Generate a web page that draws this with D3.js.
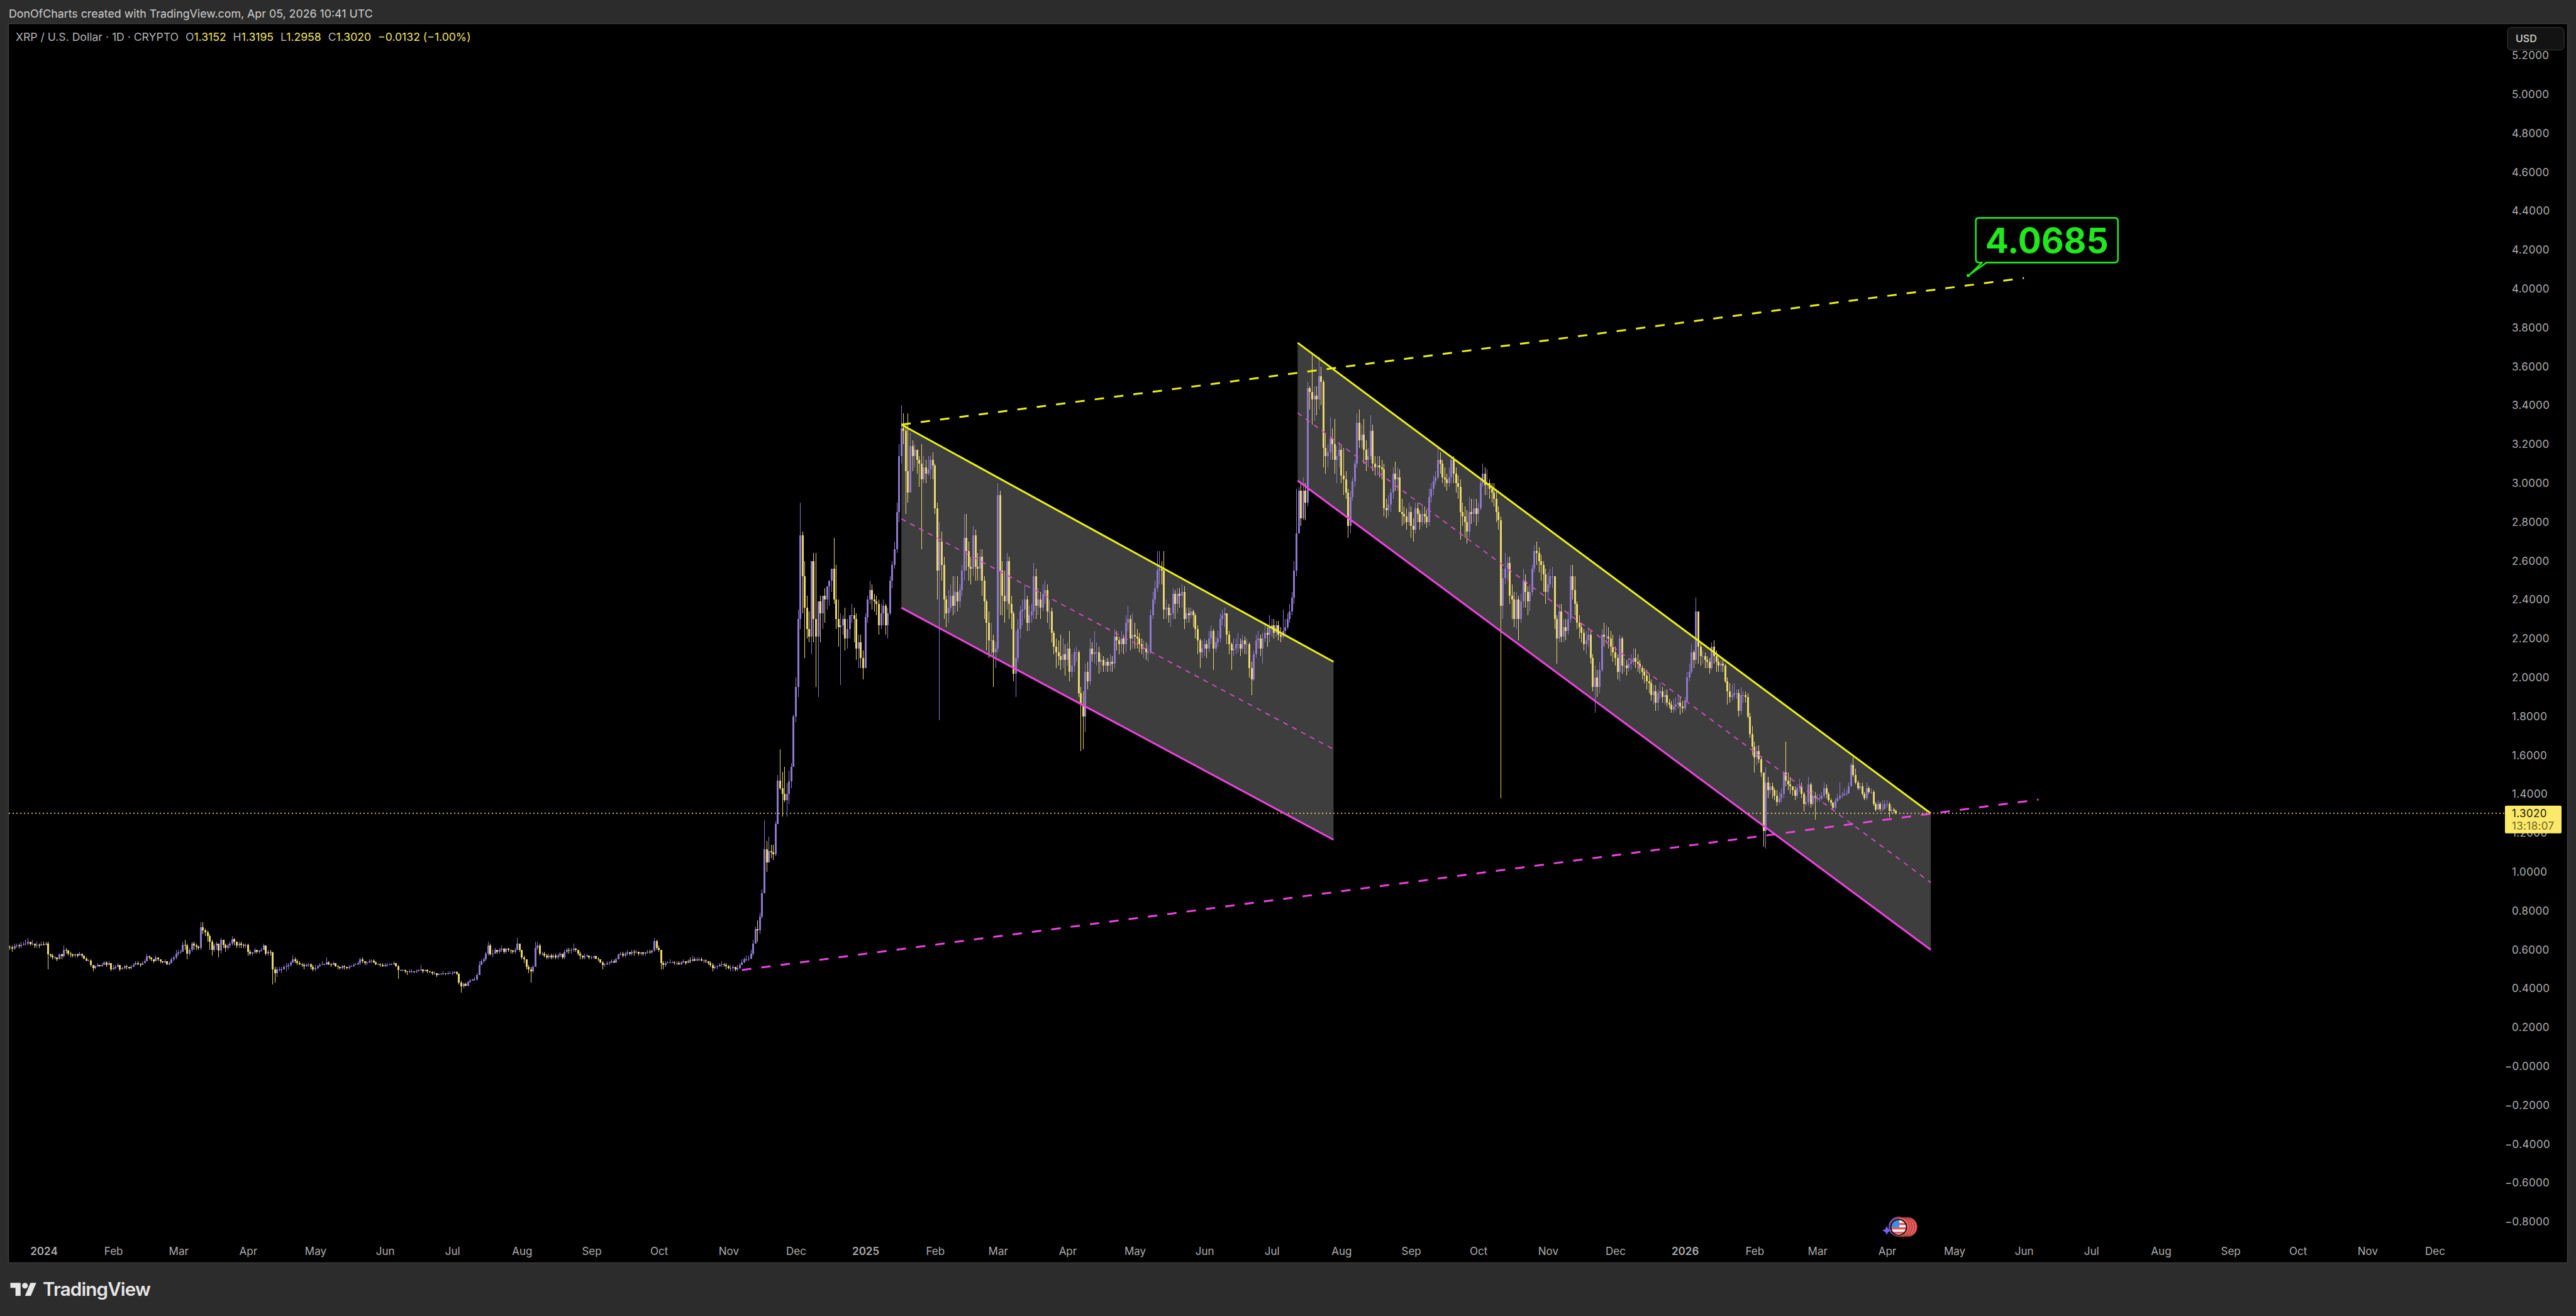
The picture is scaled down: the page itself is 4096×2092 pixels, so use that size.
<!DOCTYPE html>
<html><head><meta charset="utf-8">
<script src="https://cdn.jsdelivr.net/npm/d3@7"></script>
<style>html,body{margin:0;padding:0;background:#2b2b2b;overflow:hidden}svg{display:block}text{font-family:Inter,"Noto Sans",sans-serif}</style>
</head><body><svg id="c" width="4096" height="2092"></svg>
<script>
// ---- values ----
const monthStarts=["2023-12-16","2024-01-01","2024-02-01","2024-03-01","2024-04-01","2024-05-01","2024-06-01","2024-07-01","2024-08-01","2024-09-01","2024-10-01","2024-11-01","2024-12-01","2025-01-01","2025-02-01","2025-03-01","2025-04-01","2025-05-01","2025-06-01","2025-07-01","2025-08-01","2025-09-01","2025-10-01","2025-11-01","2025-12-01","2026-01-01","2026-02-01","2026-03-01","2026-04-01"];
const closes=[
[.615,.612,.605,.618,.622,.618,.625,.628,.632,.640,.628,.632,.620,.625,.622,.628],
[.625,.630,.575,.570,.560,.560,.550,.575,.565,.600,.595,.580,.575,.570,.575,.570,.580,.570,.555,.545,.545,.520,.505,.515,.520,.515,.520,.535,.520,.530,.500],
[.505,.510,.520,.500,.505,.515,.510,.505,.510,.520,.530,.525,.520,.530,.540,.565,.560,.550,.540,.560,.550,.540,.535,.540,.525,.530,.550,.560,.580],
[.585,.590,.625,.620,.580,.600,.630,.620,.615,.610,.715,.700,.690,.670,.640,.600,.620,.630,.595,.650,.625,.610,.620,.630,.655,.640,.620,.630,.625,.620,.625],
[.590,.580,.585,.600,.590,.595,.600,.620,.580,.590,.585,.500,.480,.500,.500,.500,.510,.515,.520,.535,.550,.540,.530,.525,.520,.515,.520,.525,.510,.500],
[.505,.515,.520,.525,.525,.535,.525,.520,.530,.515,.510,.505,.515,.510,.505,.510,.515,.520,.525,.530,.550,.540,.530,.535,.540,.545,.535,.525,.525,.520,.515],
[.520,.520,.525,.525,.530,.515,.495,.495,.495,.490,.485,.490,.490,.485,.490,.495,.500,.490,.495,.490,.485,.480,.480,.470,.475,.475,.480,.475,.480,.480],
[.480,.485,.475,.430,.410,.425,.415,.435,.440,.445,.445,.470,.520,.540,.550,.580,.620,.575,.580,.600,.590,.600,.605,.590,.605,.600,.595,.590,.600,.630,.600],
[.560,.550,.510,.500,.490,.510,.610,.620,.580,.580,.570,.560,.570,.560,.570,.560,.570,.580,.560,.590,.600,.595,.600,.605,.600,.580,.570,.560,.565,.570,.560],
[.560,.565,.555,.550,.535,.520,.525,.530,.535,.540,.535,.550,.575,.580,.570,.580,.585,.580,.590,.585,.590,.580,.585,.580,.585,.590,.585,.595,.645,.610],
[.600,.530,.520,.530,.535,.535,.535,.530,.530,.525,.535,.540,.530,.545,.540,.550,.545,.550,.550,.545,.545,.540,.530,.520,.505,.510,.515,.520,.525,.520,.515],
[.505,.505,.510,.500,.505,.520,.535,.550,.550,.555,.580,.630,.705,.700,.770,.890,1.116,1.05,1.107,1.10,1.09,1.245,1.47,1.43,1.40,1.37,1.40,1.466,1.54,1.80],
[1.95,2.30,2.73,2.52,2.36,2.25,2.21,2.60,2.30,2.21,2.39,2.33,2.42,2.40,2.47,2.50,2.56,2.40,2.30,2.26,2.27,2.30,2.20,2.25,2.32,2.32,2.30,2.15,2.18,2.10,2.05],
[2.31,2.40,2.45,2.40,2.39,2.38,2.27,2.33,2.37,2.27,2.33,2.50,2.58,2.66,2.85,3.14,3.28,3.27,3.06,2.95,3.19,3.14,3.17,3.12,3.10,3.02,3.08,3.05,3.07,3.12,3.09],
[2.87,2.55,2.70,2.58,2.40,2.33,2.36,2.42,2.37,2.44,2.39,2.45,2.55,2.72,2.65,2.57,2.56,2.73,2.57,2.56,2.62,2.50,2.39,2.28,2.19,2.19,2.13,2.15],
[2.94,2.55,2.42,2.39,2.60,2.38,2.33,2.02,2.10,2.25,2.34,2.35,2.40,2.28,2.32,2.34,2.52,2.37,2.40,2.36,2.43,2.45,2.34,2.34,2.23,2.16,2.13,2.11,2.09,2.12,2.09],
[2.15,2.03,2.06,2.13,2.13,1.92,1.86,1.80,2.03,1.98,2.15,2.12,2.13,2.13,2.08,2.09,2.06,2.08,2.06,2.08,2.07,2.21,2.19,2.17,2.20,2.17,2.28,2.30,2.20,2.22],
[2.21,2.20,2.17,2.15,2.15,2.13,2.13,2.32,2.40,2.46,2.55,2.56,2.55,2.35,2.36,2.32,2.33,2.43,2.38,2.43,2.42,2.44,2.30,2.33,2.32,2.34,2.32,2.25,2.19,2.13,2.15],
[2.17,2.15,2.20,2.24,2.15,2.18,2.20,2.30,2.32,2.33,2.22,2.17,2.14,2.15,2.17,2.17,2.15,2.19,2.17,2.17,2.05,1.99,2.12,2.19,2.20,2.15,2.20,2.23,2.22,2.26],
[2.27,2.23,2.27,2.22,2.21,2.24,2.26,2.30,2.34,2.41,2.55,2.74,2.96,2.82,2.96,2.90,3.49,3.47,3.43,3.45,3.43,3.55,3.52,3.18,3.14,3.16,3.23,3.20,3.12,3.14,3.17],
[3.04,3.02,2.95,2.78,2.93,3.01,3.10,3.31,3.22,3.25,3.17,3.12,3.14,3.27,3.10,3.08,3.09,3.08,3.07,2.87,2.86,2.89,2.95,3.05,3.02,3.03,2.85,2.84,2.83,2.80,2.85],
[2.78,2.76,2.87,2.84,2.80,2.84,2.83,2.80,2.93,2.97,3.01,3.03,3.12,3.10,3.03,3.02,3.00,3.03,3.12,3.05,3.00,2.98,2.85,2.83,2.80,2.75,2.85,2.84,2.87,2.84],
[2.87,3.00,3.05,2.99,3.00,2.97,2.95,2.92,2.85,2.81,2.37,2.51,2.56,2.59,2.42,2.40,2.30,2.40,2.30,2.39,2.50,2.44,2.39,2.44,2.56,2.65,2.64,2.60,2.58,2.53,2.44],
[2.48,2.52,2.52,2.30,2.20,2.34,2.21,2.26,2.24,2.30,2.52,2.45,2.38,2.28,2.26,2.23,2.17,2.19,2.22,2.10,1.95,2.00,1.95,2.04,2.22,2.21,2.21,2.20,2.16,2.13],
[2.10,2.03,2.20,2.06,2.06,2.05,2.07,2.08,2.10,2.08,2.07,2.05,2.03,2.01,1.98,1.97,1.91,1.93,1.87,1.92,1.93,1.90,1.91,1.87,1.86,1.835,1.85,1.86,1.87,1.85,1.84],
[1.88,2.00,2.03,2.13,2.09,2.34,2.16,2.11,2.11,2.09,2.08,2.05,2.16,2.11,2.08,2.06,2.07,2.06,1.98,1.93,1.90,1.91,1.92,1.92,1.83,1.91,1.91,1.90,1.80,1.71,1.645],
[1.59,1.62,1.58,1.51,1.21,1.46,1.42,1.44,1.42,1.39,1.36,1.38,1.40,1.51,1.47,1.45,1.44,1.42,1.39,1.43,1.44,1.40,1.35,1.36,1.45,1.35,1.39,1.38],
[1.38,1.38,1.39,1.43,1.40,1.37,1.355,1.33,1.365,1.38,1.39,1.395,1.40,1.405,1.44,1.55,1.50,1.46,1.43,1.44,1.40,1.38,1.43,1.41,1.41,1.35,1.32,1.35,1.325,1.325,1.35],
[1.35,1.315,1.32,1.3152,1.3020]];
const highs=[
[.63,.62,.62,.63,.63,.63,.64,.64,.65,.66,.64,.65,.63,.64,.63,.64],
[.64,.64,.64,.58,.58,.57,.56,.58,.58,.62,.61,.60,.59,.58,.58,.58,.59,.58,.57,.56,.55,.55,.52,.52,.53,.52,.53,.54,.54,.54,.53],
[.52,.52,.53,.52,.51,.52,.52,.51,.52,.53,.54,.54,.53,.54,.55,.58,.57,.56,.55,.57,.56,.55,.54,.55,.54,.54,.56,.57,.60],
[.60,.60,.64,.65,.63,.61,.64,.64,.63,.62,.74,.74,.71,.70,.68,.65,.63,.64,.63,.66,.65,.63,.63,.64,.67,.66,.64,.64,.64,.63,.63],
[.63,.60,.59,.61,.60,.60,.61,.63,.62,.60,.60,.59,.51,.51,.51,.51,.52,.53,.53,.54,.57,.56,.55,.54,.53,.53,.53,.53,.53,.52],
[.52,.52,.53,.54,.53,.56,.54,.53,.54,.53,.52,.51,.52,.52,.51,.52,.52,.53,.53,.54,.56,.56,.54,.54,.55,.55,.55,.54,.53,.53,.53],
[.53,.53,.53,.53,.54,.53,.52,.50,.50,.50,.49,.50,.50,.49,.50,.50,.52,.50,.50,.50,.49,.49,.49,.48,.48,.48,.49,.48,.49,.49],
[.49,.49,.49,.48,.44,.43,.43,.44,.45,.45,.46,.48,.54,.55,.56,.59,.64,.63,.60,.61,.60,.61,.62,.61,.61,.61,.60,.60,.61,.66,.63],
[.60,.57,.55,.52,.51,.52,.64,.64,.63,.59,.59,.58,.58,.58,.58,.58,.58,.59,.58,.60,.61,.61,.61,.63,.61,.60,.59,.57,.58,.58,.57],
[.57,.57,.57,.56,.55,.54,.53,.54,.54,.55,.55,.56,.58,.59,.59,.59,.60,.59,.60,.60,.60,.59,.59,.59,.59,.60,.60,.60,.66,.65],
[.62,.60,.54,.54,.54,.55,.54,.54,.54,.54,.54,.55,.54,.55,.56,.57,.56,.56,.56,.56,.55,.55,.54,.54,.53,.52,.52,.53,.54,.53,.53],
[.52,.52,.52,.51,.52,.53,.55,.56,.57,.57,.60,.65,.72,.75,.79,.91,1.265,1.16,1.18,1.14,1.14,1.26,1.50,1.63,1.515,1.54,1.455,1.52,1.56,1.81],
[2.0,2.35,2.90,2.75,2.60,2.42,2.34,2.30,2.64,2.64,2.25,2.42,2.40,2.46,2.42,2.50,2.52,2.72,2.58,2.40,2.33,2.32,2.36,2.30,2.32,2.38,2.36,2.33,2.22,2.22,2.14],
[2.33,2.42,2.50,2.48,2.43,2.42,2.40,2.38,2.40,2.38,2.36,2.52,2.60,2.70,2.90,3.20,3.40,3.36,3.30,3.36,3.26,3.22,3.20,3.16,3.14,3.20,3.14,3.12,3.14,3.14,3.16],
[3.10,2.90,2.80,2.75,2.62,2.42,2.45,2.48,2.52,2.52,2.52,2.48,2.58,2.84,2.84,2.70,2.62,2.78,2.76,2.64,2.66,2.66,2.52,2.40,2.34,2.28,2.22,2.18],
[3.00,2.96,2.60,2.55,2.64,2.62,2.42,2.34,2.24,2.30,2.37,2.40,2.48,2.42,2.37,2.38,2.59,2.56,2.46,2.44,2.48,2.50,2.48,2.40,2.36,2.24,2.20,2.19,2.22,2.20,2.17],
[2.18,2.24,2.12,2.15,2.16,2.14,1.95,1.93,2.07,2.08,2.20,2.18,2.24,2.18,2.16,2.12,2.11,2.10,2.10,2.12,2.11,2.25,2.24,2.21,2.24,2.22,2.32,2.37,2.32,2.33],
[2.28,2.25,2.23,2.20,2.19,2.18,2.17,2.35,2.44,2.50,2.65,2.65,2.60,2.65,2.40,2.38,2.36,2.46,2.45,2.46,2.46,2.48,2.47,2.36,2.36,2.36,2.35,2.33,2.27,2.20,2.19],
[2.20,2.19,2.24,2.27,2.25,2.21,2.24,2.33,2.35,2.36,2.33,2.24,2.18,2.20,2.20,2.23,2.20,2.22,2.21,2.20,2.18,2.08,2.14,2.22,2.24,2.22,2.23,2.28,2.26,2.32],
[2.30,2.30,2.29,2.29,2.26,2.35,2.30,2.33,2.38,2.44,2.60,2.97,2.98,3.00,3.03,3.00,3.52,3.50,3.66,3.50,3.50,3.65,3.60,3.53,3.26,3.20,3.34,3.28,3.33,3.19,3.21],
[3.19,3.18,3.06,2.97,2.96,3.03,3.12,3.36,3.38,3.30,3.33,3.22,3.18,3.35,3.30,3.14,3.14,3.14,3.12,3.10,2.92,2.94,2.97,3.08,3.11,3.08,3.07,2.92,2.88,2.87,2.90],
[2.88,2.82,2.90,2.90,2.86,2.88,2.88,2.86,2.97,3.00,3.04,3.06,3.18,3.16,3.12,3.08,3.05,3.08,3.14,3.14,3.08,3.04,3.02,2.90,2.88,2.86,2.93,2.92,2.92,2.92],
[2.90,3.02,3.10,3.08,3.07,3.02,3.00,3.00,2.96,2.88,2.83,2.56,2.64,2.62,2.62,2.48,2.44,2.44,2.42,2.43,2.56,2.53,2.47,2.48,2.58,2.68,2.70,2.67,2.63,2.60,2.56],
[2.54,2.56,2.57,2.52,2.32,2.38,2.38,2.30,2.30,2.34,2.58,2.58,2.52,2.39,2.32,2.28,2.25,2.24,2.26,2.24,2.12,2.06,2.04,2.08,2.25,2.28,2.27,2.26,2.24,2.22],
[2.16,2.12,2.22,2.21,2.10,2.09,2.10,2.12,2.15,2.15,2.12,2.09,2.06,2.05,2.04,2.02,1.99,1.96,1.96,1.94,1.97,1.95,1.94,1.94,1.89,1.88,1.89,1.90,1.91,1.90,1.88],
[1.90,2.03,2.07,2.17,2.14,2.41,2.34,2.18,2.14,2.13,2.11,2.10,2.18,2.19,2.14,2.10,2.09,2.09,2.07,2.00,1.97,1.96,1.97,1.94,1.94,1.95,1.93,1.93,1.92,1.82,1.75],
[1.67,1.65,1.65,1.59,1.51,1.54,1.49,1.46,1.46,1.43,1.42,1.41,1.43,1.52,1.67,1.51,1.49,1.44,1.44,1.45,1.48,1.46,1.41,1.39,1.49,1.46,1.42,1.41],
[1.40,1.40,1.41,1.46,1.45,1.41,1.38,1.36,1.38,1.40,1.46,1.41,1.43,1.42,1.46,1.56,1.59,1.53,1.47,1.46,1.46,1.41,1.46,1.44,1.43,1.42,1.36,1.37,1.36,1.37,1.37],
[1.37,1.36,1.34,1.33,1.3195]];
const lows=[
[.60,.60,.59,.60,.61,.61,.61,.62,.62,.62,.62,.62,.61,.61,.61,.62],
[.62,.62,.50,.56,.55,.55,.54,.55,.55,.56,.58,.57,.56,.56,.56,.56,.57,.56,.55,.54,.54,.51,.49,.50,.51,.51,.51,.52,.51,.52,.49],
[.50,.50,.51,.49,.50,.50,.50,.50,.50,.51,.52,.52,.51,.52,.53,.54,.55,.54,.53,.54,.54,.53,.53,.53,.52,.52,.53,.54,.55],
[.57,.58,.59,.60,.55,.57,.59,.60,.60,.60,.60,.68,.67,.64,.60,.57,.59,.60,.56,.58,.61,.59,.60,.61,.62,.62,.61,.61,.61,.61,.61],
[.57,.57,.57,.58,.58,.58,.59,.60,.57,.57,.57,.42,.43,.46,.49,.48,.50,.49,.50,.51,.53,.53,.52,.52,.51,.50,.51,.51,.50,.49],
[.49,.50,.51,.52,.52,.52,.52,.51,.52,.51,.50,.50,.50,.50,.50,.50,.51,.51,.52,.52,.52,.53,.52,.52,.53,.53,.53,.52,.52,.51,.51],
[.51,.51,.52,.52,.52,.51,.45,.49,.49,.48,.47,.48,.48,.48,.48,.49,.49,.48,.49,.48,.48,.47,.47,.46,.47,.47,.47,.47,.47,.48],
[.47,.48,.47,.42,.38,.40,.41,.41,.43,.44,.44,.44,.47,.52,.53,.54,.57,.57,.56,.58,.58,.58,.59,.58,.58,.59,.58,.58,.58,.60,.59],
[.55,.53,.50,.48,.43,.48,.51,.60,.57,.57,.56,.55,.55,.55,.55,.55,.55,.56,.55,.55,.58,.58,.58,.59,.59,.57,.55,.55,.55,.56,.55],
[.55,.55,.55,.54,.53,.50,.51,.52,.52,.53,.53,.53,.55,.57,.56,.56,.57,.57,.57,.57,.58,.57,.57,.57,.57,.58,.58,.58,.59,.60],
[.59,.50,.50,.51,.53,.53,.53,.52,.52,.52,.52,.53,.52,.53,.53,.54,.54,.54,.54,.54,.53,.53,.52,.51,.49,.50,.50,.51,.51,.51,.50],
[.50,.49,.49,.49,.49,.50,.52,.53,.54,.54,.55,.57,.63,.64,.68,.76,.89,1.00,1.06,1.07,1.06,1.08,1.245,1.42,1.285,1.36,1.285,1.35,1.43,1.55],
[1.77,1.90,2.25,2.33,2.10,2.20,2.18,2.12,2.18,1.95,1.90,2.18,2.25,2.28,2.35,2.37,2.44,2.38,2.25,2.16,1.96,2.22,2.14,2.15,2.20,2.28,2.18,2.09,2.05,2.05,1.99],
[2.05,2.28,2.38,2.35,2.34,2.32,2.22,2.25,2.27,2.22,2.20,2.32,2.46,2.56,2.64,2.80,3.10,3.20,2.84,2.90,2.95,3.06,3.08,3.05,2.98,2.66,3.00,3.00,3.04,3.02,3.02],
[2.84,2.40,1.78,2.50,2.30,2.26,2.28,2.34,2.32,2.33,2.34,2.36,2.42,2.50,2.55,2.50,2.48,2.52,2.50,2.50,2.50,2.42,2.30,2.14,2.10,2.12,1.95,2.05],
[2.13,2.32,2.32,2.28,2.35,2.30,2.25,1.98,1.90,2.08,2.20,2.27,2.30,2.24,2.24,2.28,2.30,2.30,2.32,2.30,2.34,2.38,2.28,2.25,2.18,2.12,2.05,2.06,2.04,2.05,2.01],
[2.06,1.98,2.00,2.03,2.08,1.90,1.62,1.63,1.72,1.94,1.96,2.08,2.07,2.06,2.02,2.03,2.03,2.03,2.03,2.03,2.03,2.05,2.14,2.12,2.13,2.12,2.13,2.24,2.14,2.15],
[2.15,2.15,2.13,2.12,2.10,2.09,2.08,2.12,2.30,2.38,2.44,2.48,2.48,2.30,2.30,2.28,2.26,2.30,2.30,2.33,2.36,2.36,2.25,2.28,2.28,2.30,2.26,2.20,2.12,2.05,2.10],
[2.11,2.10,2.13,2.17,2.04,2.13,2.16,2.18,2.27,2.26,2.17,2.12,2.04,2.11,2.12,2.13,2.11,2.13,2.12,2.12,2.00,1.91,1.98,2.10,2.15,2.11,2.07,2.18,2.16,2.18],
[2.21,2.20,2.21,2.19,2.18,2.20,2.22,2.25,2.28,2.32,2.38,2.52,2.74,2.78,2.81,2.81,2.88,3.38,3.30,3.32,3.35,3.38,3.40,3.08,3.05,3.08,3.12,3.12,3.05,3.00,3.08],
[3.00,2.94,2.92,2.72,2.74,2.91,2.98,3.08,3.18,3.18,3.10,3.06,3.08,3.12,3.06,3.04,3.04,3.03,3.02,2.83,2.82,2.83,2.85,2.92,2.96,2.96,2.98,2.78,2.79,2.76,2.78],
[2.72,2.70,2.74,2.80,2.76,2.78,2.79,2.77,2.78,2.90,2.94,2.99,3.02,3.05,3.00,2.98,2.96,2.98,3.00,3.00,2.95,2.92,2.71,2.78,2.72,2.69,2.72,2.79,2.80,2.78],
[2.80,2.86,2.98,2.94,2.94,2.92,2.90,2.88,2.80,2.76,1.38,2.30,2.48,2.50,2.38,2.30,2.26,2.25,2.19,2.28,2.36,2.36,2.32,2.34,2.42,2.54,2.58,2.54,2.50,2.44,2.38],
[2.40,2.46,2.46,2.25,2.07,2.18,2.18,2.18,2.19,2.22,2.28,2.40,2.32,2.25,2.20,2.18,2.14,2.12,2.16,2.07,1.93,1.82,1.90,1.92,2.03,2.16,2.17,2.15,2.11,2.08],
[2.06,1.99,1.98,2.02,2.03,2.01,2.03,2.04,2.06,2.05,2.03,2.02,1.99,1.97,1.94,1.92,1.88,1.86,1.83,1.83,1.89,1.87,1.86,1.85,1.84,1.82,1.82,1.83,1.84,1.81,1.82],
[1.83,1.87,1.98,2.02,2.05,2.07,2.07,2.06,2.07,2.05,2.05,2.02,2.04,2.07,2.03,2.03,2.03,2.03,1.97,1.86,1.87,1.88,1.89,1.89,1.80,1.81,1.87,1.87,1.79,1.69,1.60],
[1.51,1.55,1.56,1.49,1.13,1.12,1.38,1.40,1.38,1.37,1.34,1.35,1.36,1.38,1.44,1.42,1.40,1.39,1.37,1.38,1.41,1.38,1.31,1.34,1.34,1.33,1.34,1.27],
[1.36,1.36,1.37,1.38,1.38,1.36,1.34,1.32,1.32,1.36,1.37,1.38,1.39,1.39,1.40,1.44,1.49,1.45,1.42,1.42,1.39,1.37,1.37,1.40,1.40,1.34,1.31,1.32,1.31,1.31,1.32],
[1.33,1.28,1.30,1.30,1.2958]];

const priceTicks=[5.2,5,4.8,4.6,4.4,4.2,4,3.8,3.6,3.4,3.2,3,2.8,2.6,2.4,2.2,2,1.8,1.6,1.4,1.2,1,.8,.6,.4,.2,0,-.2,-.4,-.6,-.8];
const timeTicks=["2024-01-01","2024-02-01","2024-03-01","2024-04-01","2024-05-01","2024-06-01","2024-07-01","2024-08-01","2024-09-01","2024-10-01","2024-11-01","2024-12-01","2025-01-01","2025-02-01","2025-03-01","2025-04-01","2025-05-01","2025-06-01","2025-07-01","2025-08-01","2025-09-01","2025-10-01","2025-11-01","2025-12-01","2026-01-01","2026-02-01","2026-03-01","2026-04-01","2026-05-01","2026-06-01","2026-07-01","2026-08-01","2026-09-01","2026-10-01","2026-11-01","2026-12-01"];
// channels: [start date, end date, top start, top end, mid start, mid end, bottom start, bottom end]
const channel1=["2025-01-17","2025-07-28T12:00Z",3.301,2.081,2.816,1.631,2.359,1.165];
const channel2=["2025-07-12T12:00Z","2026-04-20T12:00Z",3.722,1.301,3.362,.945,3.013,.599];
const upperTrend=[["2025-01-17",3.301],["2026-06-01",4.055]];
const lowerTrend=[["2024-11-07",.495],["2026-06-07T12:00Z",1.372]];
const targetLabel={date:"2026-05-07",price:4.0685,text:"4.0685"};
const lastPrice=1.3020;
const ohlcLegend=[["O","1.3152"],["H","1.3195"],["L","1.2958"],["C","1.3020"]];

// ---- layout ----
const W=4096,H=2092,pane={l:14,t:38,r:4082,b:2007};
const COL={bg:"#2c2c2c",frame:"#3c3c3c",up:"#8d78ce",down:"#ead76c",yellow:"#e9f012",magenta:"#ef42e0",fill:"#3e3e3e",axis:"#adadad",green:"#22e61e",tag:"#fce96a"};
const parse=s=>new Date(s.length>10?s:s+"T00:00:00Z");
const x=d3.scaleUtc().domain([parse("2024-01-01"),parse("2026-12-01")]).range([69.5,3871.5]);
const y=d3.scaleLinear().domain([5,0]).range([150,1695]);

// assemble bars
const DAY=864e5,bars=[];let prev=null;
monthStarts.forEach((m,i)=>{const t0=+parse(m);closes[i].forEach((c,j)=>{
  const o=prev===null?c:prev;
  bars.push({t:new Date(t0+j*DAY),o,c,h:Math.max(highs[i][j],o,c),l:Math.min(lows[i][j],o,c)});prev=c;});});

const svg=d3.select("#c");
svg.append("rect").attr("width",W).attr("height",H).attr("fill",COL.bg);
svg.append("rect").attr("x",pane.l-.5).attr("y",pane.t-.5).attr("width",pane.r-pane.l+1).attr("height",pane.b-pane.t+1).attr("fill","#000").attr("stroke",COL.frame).attr("stroke-width",1.5);

// axes
const fmtP=p=>(p<=0?"\u2212":"")+Math.abs(p).toFixed(4);
const yAxis=svg.append("g").attr("transform","translate(3994,0)").call(d3.axisRight(y).tickValues(priceTicks).tickSize(0).tickPadding(0).tickFormat(fmtP));
yAxis.select(".domain").remove();
yAxis.selectAll("text").attr("fill",COL.axis).attr("font-size",17).attr("font-family","Inter").attr("x",d=>d<=0?-11:0).style("letter-spacing","0.35px");
const fmtT=d=>d.getUTCMonth()===0?String(d.getUTCFullYear()):d3.utcFormat("%b")(d);
const xAxis=svg.append("g").attr("transform","translate(0,1983)").call(d3.axisBottom(x).tickValues(timeTicks.map(parse)).tickSize(0).tickPadding(0).tickFormat(fmtT));
xAxis.select(".domain").remove();
xAxis.selectAll("text").attr("fill",COL.axis).attr("font-size",17).attr("font-family","Inter").attr("dy","0.71em").attr("font-weight",d=>d.getUTCMonth()===0?600:400);

// channel fills
const area=d3.area().x(d=>x(parse(d[0]))).y0(d=>y(d[1])).y1(d=>y(d[2]));
[channel1,channel2].forEach(c=>svg.append("path").attr("fill",COL.fill).attr("d",area([[c[0],c[2],c[6]],[c[1],c[3],c[7]]])));

// last price line
svg.append("line").attr("x1",pane.l).attr("x2",3983).attr("y1",y(lastPrice)).attr("y2",y(lastPrice)).attr("stroke",COL.tag).attr("stroke-width",1.5).attr("stroke-dasharray","2 4");

// candles
const gc=svg.append("g").attr("shape-rendering","crispEdges").attr("clip-path","url(#pc)");
svg.append("clipPath").attr("id","pc").append("rect").attr("x",pane.l).attr("y",pane.t).attr("width",pane.r-pane.l).attr("height",pane.b-pane.t);
const col=d=>d.c>=d.o?COL.up:COL.down;
gc.selectAll("line").data(bars).join("line").attr("x1",d=>x(d.t)).attr("x2",d=>x(d.t)).attr("y1",d=>y(d.h)).attr("y2",d=>y(d.l)).attr("stroke",col).attr("stroke-width",1);
gc.selectAll("rect").data(bars).join("rect").attr("x",d=>x(d.t)-1.5).attr("width",3).attr("y",d=>y(Math.max(d.o,d.c))).attr("height",d=>Math.max(1,Math.abs(y(d.o)-y(d.c)))).attr("fill",col);

// lines
const ln=d3.line().x(d=>x(parse(d[0]))).y(d=>y(d[1]));
[channel1,channel2].forEach(c=>{
  svg.append("path").attr("d",ln([[c[0],c[4]],[c[1],c[5]]])).attr("fill","none").attr("stroke","#d94cc8").attr("stroke-width",1.8).attr("stroke-dasharray","8 8");
  svg.append("path").attr("d",ln([[c[0],c[2]],[c[1],c[3]]])).attr("fill","none").attr("stroke",COL.yellow).attr("stroke-width",3);
  svg.append("path").attr("d",ln([[c[0],c[6]],[c[1],c[7]]])).attr("fill","none").attr("stroke",COL.magenta).attr("stroke-width",3);
});
svg.append("path").attr("d",ln(upperTrend)).attr("fill","none").attr("stroke",COL.yellow).attr("stroke-width",3).attr("stroke-dasharray","15 16");
svg.append("path").attr("d",ln(lowerTrend)).attr("fill","none").attr("stroke",COL.magenta).attr("stroke-width",3).attr("stroke-dasharray","15 16");

// target callout
const ax=x(parse(targetLabel.date))+0.7,ay=y(targetLabel.price);
const g=svg.append("g").attr("transform",`translate(${ax},${ay})`);
const bx=12,by=-91.5,bw=226,bh=71,r=5;
g.append("path").attr("fill","#000").attr("stroke",COL.green).attr("stroke-width",2.6).attr("stroke-linejoin","round")
 .attr("d",`M${bx+r},${by}H${bx+bw-r}Q${bx+bw},${by} ${bx+bw},${by+r}V${by+bh-r}Q${bx+bw},${by+bh} ${bx+bw-r},${by+bh}H${bx+17}L3,-2L${bx+10},${by+bh}H${bx+r}Q${bx},${by+bh} ${bx},${by+bh-r}V${by+r}Q${bx},${by} ${bx+r},${by}Z`);
g.append("circle").attr("r",2.7).attr("fill",COL.green);
g.append("text").attr("x",bx+bw/2).attr("y",by+bh/2+20).attr("text-anchor","middle").attr("font-size",55).attr("font-weight",700).attr("fill",COL.green).text(targetLabel.text);

// last price tag
const ty=y(lastPrice);
svg.append("rect").attr("x",3983).attr("y",ty-12).attr("width",90).attr("height",44).attr("rx",2).attr("fill",COL.tag);
svg.append("text").attr("x",3994).attr("y",ty+6).attr("font-size",17).style("letter-spacing","0.35px").attr("fill","#1c1a08").text(lastPrice.toFixed(4));
svg.append("text").attr("x",3994).attr("y",ty+26).attr("font-size",17).style("letter-spacing","0.35px").attr("fill","#73682a").text("13:18:07");

// USD badge
svg.append("rect").attr("x",3987).attr("y",43.5).attr("width",90).attr("height",36).attr("rx",6).attr("fill","#131313").attr("stroke","#3a3a3a").attr("stroke-width",1);
svg.append("text").attr("x",4000).attr("y",67).attr("font-size",16).attr("font-weight",500).attr("fill","#d6d6d6").text("USD");

// header
svg.append("text").attr("x",14).attr("y",28).attr("font-size",17.8).attr("fill","#cfcfcf").text("DonOfCharts created with TradingView.com, Apr 05, 2026 10:41 UTC");
const lg=svg.append("text").attr("x",25).attr("y",65).attr("font-size",17.6).attr("fill","#b4b4b4");
lg.append("tspan").text("XRP / U.S. Dollar \u00b7 1D \u00b7 CRYPTO");
ohlcLegend.forEach(([k,v])=>{lg.append("tspan").attr("dx",11).text(k);lg.append("tspan").attr("fill","#f2e468").text(v);});
lg.append("tspan").attr("dx",11).attr("fill","#f2e468").text("\u22120.0132 (\u22121.00%)");

// footer logo
const lgo=svg.append("g").attr("transform","translate(16.5,2034.5) scale(1.16)").attr("fill","#e6e6e6");
lgo.append("path").attr("d","M14 22H7V11H0V4h14v18zM28 22h-8l7.5-18h8L28 22z");
lgo.append("circle").attr("cx",20).attr("cy",8).attr("r",4);
svg.append("text").attr("x",68).attr("y",2060).attr("font-size",29.5).attr("font-weight",600).style("letter-spacing","-0.8px").attr("fill","#e6e6e6").text("TradingView");

// event icon
const ev=svg.append("g");
ev.append("circle").attr("cx",3019).attr("cy",1950).attr("r",16).attr("fill","#7a55d8");
[3033,3029,3025,3021].forEach(cx=>ev.append("circle").attr("cx",cx).attr("cy",1950.5).attr("r",15.5).attr("fill","#f25f5f").attr("stroke","#7c2c2c").attr("stroke-width",1));
ev.append("clipPath").attr("id","fl").append("circle").attr("cx",3019).attr("cy",1951).attr("r",12.5);
const fl=ev.append("g").attr("clip-path","url(#fl)");
fl.append("rect").attr("x",3006).attr("y",1938).attr("width",26).attr("height",26).attr("fill","#f6f6f6");
[1944,1951,1958].forEach(sy=>fl.append("rect").attr("x",3006).attr("y",sy).attr("width",26).attr("height",3.5).attr("fill","#e85a5a"));
fl.append("rect").attr("x",3006).attr("y",1938).attr("width",14).attr("height",13).attr("fill","#3c8fe6");
ev.append("circle").attr("cx",3019).attr("cy",1951).attr("r",12.5).attr("fill","none").attr("stroke","#111").attr("stroke-width",2);
ev.append("path").attr("d","M3000,1948Q3001,1955 3008,1956Q3001,1957 3000,1964Q2999,1957 2992,1956Q2999,1955 3000,1948Z").attr("fill","#7d5cf0");
</script></body></html>
